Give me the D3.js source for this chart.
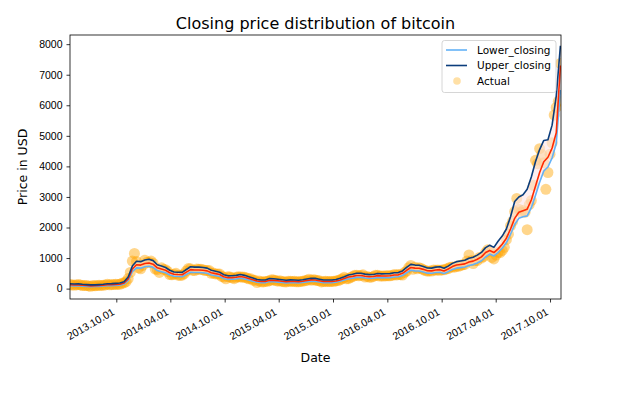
<!DOCTYPE html>
<html>
<head>
<meta charset="utf-8">
<script src="https://cdn.jsdelivr.net/npm/d3@7"></script>
<style>
  body { margin: 0; background: #fff; }
  svg { font-family: "DejaVu Sans", sans-serif; }
</style>
</head>
<body>
<div id="chart"></div>
<script>
// weekly closing prices (USD), first point 2013-04-28
var actualClose = [
  135,115,115,122,133, 122,100,100,103,88, 76,98,91,98, 106,104,114,122,
  146,126,128,134,140, 136,142,172,190, 230,330,530,900, 1150,890,680,650,760,
  // 2014
  930,860,860,900, 830,640,620,530, 680,630,620,560,460, 450,470,500,440,
  430,440,490,580, 660,650,600,590,640, 630,630,620,590, 590,590,500,510,480,
  480,475,400,380, 320,390,380,355, 325,370,390,380,380, 370,350,320,320,
  // 2015
  275,270,200,250, 225,220,235,240, 260,290,285,265,245, 260,235,225,220,
  240,240,235,240,225, 225,235,245,255, 270,310,275,290, 280,265,255,220,230,
  240,230,230,235, 240,250,265,290, 325,370,320,325,360, 395,435,440,420,
  // 2016
  430,450,380,400,375, 375,400,440,435, 410,415,410,420, 420,420,430,460,
  445,460,455,445,530, 575,685,760,630, 700,650,680,660,620, 590,570,580,575,
  610,605,610,600, 610,615,640,655,700, 710,700,730,730, 765,780,790,900,
  // 2017
  1100,910,820,920,920, 1020,1000,1050,1180, 1270,1230,1020,970,
  1100,1190,1180,1250,1350, 1600,1780,2050,2200, 2520,2950,2600,2500,
  2560,2500,1930,2750,2880, 3380,4200,4090,4580, 4390,4120,3250,3800,
  4400,4770,5680,5930,6130, 7370
];

// model output every 14 days, first point 2013-04-28
var meanClose = [
  125,118,120,108,100,90,92,100,110,125,128,135,145,185,320,640,780,770,820,840,
  800,680,640,600,520,470,460,455,540,620,610,610,600,580,520,490,460,390,355,360,
  370,395,370,330,290,250,235,235,275,270,255,240,228,238,236,228,242,265,285,280,
  258,232,232,236,250,285,330,380,400,430,430,405,390,395,425,412,415,420,445,450,
  500,600,690,670,665,630,585,580,610,620,575,640,720,770,790,810,870,900,960,1040,
  1180,1250,1180,1300,1450,1650,1950,2300,2500,2550,2600,2900,3350,3800,4150,4300,4600,5100,7300
];
var upperClose = [
  160,152,154,141,132,121,123,132,143,160,163,171,182,227,378,737,894,882,938,961,
  916,782,737,692,602,546,535,530,625,714,703,703,692,670,602,569,535,457,418,423,
  434,462,434,390,345,300,283,283,328,322,306,289,275,287,284,275,291,317,339,334,
  309,280,280,284,300,339,390,446,468,502,502,474,457,462,496,481,485,490,518,524,
  580,692,793,770,765,726,675,670,703,714,664,737,826,882,905,927,994,1028,1095,1185,
  1342,1420,1350,1550,1720,1950,2350,2850,3000,3070,3250,3650,4150,4550,4850,4870,5350,6300,7950
];
var lowerClose = [
  96,90,92,81,74,65,67,74,83,96,99,105,114,150,270,555,679,670,715,733,
  697,590,555,519,448,403,394,390,466,537,528,528,519,501,448,421,394,332,301,305,
  314,337,314,279,243,208,194,194,230,225,212,199,188,197,195,188,200,221,239,234,
  215,191,191,195,208,239,279,323,341,368,368,345,332,337,363,352,354,359,381,386,
  430,519,599,581,577,546,506,501,528,537,497,555,626,670,688,706,759,786,839,911,
  1035,1130,1070,1180,1320,1500,1780,2100,2300,2350,2380,2650,3050,3480,3850,3980,4280,4750,6500
];

var xTickLabels = ["2013.10.01","2014.04.01","2014.10.01","2015.04.01","2015.10.01",
                   "2016.04.01","2016.10.01","2017.04.01","2017.10.01"];
var yTicks = [0,1000,2000,3000,4000,5000,6000,7000,8000];

var startDate = new Date(2013, 3, 28);
var endDate = new Date(2017, 10, 7);
var parseTick = d3.timeParse("%Y.%m.%d");

var actual = actualClose.map(function(v, i) {
    return { date: d3.timeDay.offset(startDate, 7 * i), value: v };
});
var band = meanClose.map(function(v, i) {
    return { date: d3.timeDay.offset(startDate, 14 * i), mean: v, upper: upperClose[i], lower: lowerClose[i] };
});

var width = 630, height = 395;
var margin = { top: 35, right: 69, bottom: 96, left: 70 };

var svg = d3.select("#chart").append("svg")
    .attr("width", width)
    .attr("height", height);

var x = d3.scaleTime()
    .domain([startDate, endDate])
    .range([margin.left, width - margin.right]);

var y = d3.scaleLinear()
    .domain([-340, 8300])
    .range([height - margin.bottom, margin.top]);

svg.append("clipPath").attr("id", "plot-clip")
    .append("rect")
    .attr("x", margin.left).attr("y", margin.top)
    .attr("width", width - margin.left - margin.right)
    .attr("height", height - margin.top - margin.bottom);

var plot = svg.append("g").attr("clip-path", "url(#plot-clip)");

// actual closing prices
plot.selectAll(".actual")
    .data(actual)
    .enter().append("circle")
    .attr("class", "actual")
    .attr("cx", function(d) { return x(d.date); })
    .attr("cy", function(d) { return y(d.value); })
    .attr("r", 5.5)
    .style("fill", "#ffa500")
    .style("opacity", 0.45);

// band between lower and upper
plot.append("path")
    .datum(band)
    .attr("d", d3.area()
        .x(function(d) { return x(d.date); })
        .y0(function(d) { return y(d.lower); })
        .y1(function(d) { return y(d.upper); }))
    .style("fill", "#fbe4e8")
    .style("opacity", 0.6);

function drawLine(key, color) {
    plot.append("path")
        .datum(band)
        .attr("d", d3.line()
            .x(function(d) { return x(d.date); })
            .y(function(d) { return y(d[key]); }))
        .style("fill", "none")
        .style("stroke", color)
        .style("stroke-width", 1.6)
        .style("stroke-linejoin", "round");
}
drawLine("lower", "#63b1f7");
drawLine("mean", "#ff2a00");
drawLine("upper", "#0b3d7c");

// axes
var xAxis = svg.append("g")
    .attr("transform", "translate(0," + (height - margin.bottom) + ")")
    .call(d3.axisBottom(x)
        .tickValues(xTickLabels.map(parseTick))
        .tickFormat(d3.timeFormat("%Y.%m.%d"))
        .tickSize(3.5)
        .tickPadding(3));
xAxis.select(".domain").remove();
xAxis.selectAll("line").style("stroke", "#000").style("stroke-width", 0.8);
xAxis.selectAll("text")
    .style("font-size", "10.5px")
    .style("fill", "#000")
    .attr("text-anchor", "end")
    .attr("dy", null)
    .attr("y", null)
    .attr("transform", "translate(-1.5,15) rotate(-30)");

var yAxis = svg.append("g")
    .attr("transform", "translate(" + margin.left + ",0)")
    .call(d3.axisLeft(y).tickValues(yTicks).tickFormat(d3.format("d")).tickSize(3.5).tickPadding(4));
yAxis.select(".domain").remove();
yAxis.selectAll("line").style("stroke", "#000").style("stroke-width", 0.8);
yAxis.selectAll("text").style("font-size", "10.5px").style("fill", "#000");

svg.append("rect")
    .attr("x", margin.left).attr("y", margin.top)
    .attr("width", width - margin.left - margin.right)
    .attr("height", height - margin.top - margin.bottom)
    .style("fill", "none")
    .style("stroke", "#000")
    .style("stroke-width", 0.8);

// titles
svg.append("text")
    .attr("x", (margin.left + width - margin.right) / 2)
    .attr("y", 29)
    .attr("text-anchor", "middle")
    .style("font-size", "16px")
    .text("Closing price distribution of bitcoin");

svg.append("text")
    .attr("x", (margin.left + width - margin.right) / 2)
    .attr("y", 362)
    .attr("text-anchor", "middle")
    .style("font-size", "12.5px")
    .text("Date");

svg.append("text")
    .attr("transform", "translate(27," + ((margin.top + height - margin.bottom) / 2) + ") rotate(-90)")
    .attr("text-anchor", "middle")
    .style("font-size", "12.5px")
    .text("Price in USD");

// legend
var legend = svg.append("g").attr("transform", "translate(442,40.5)");
legend.append("rect")
    .attr("width", 114).attr("height", 52)
    .attr("rx", 2.5)
    .style("fill", "#fff").style("fill-opacity", 0.8)
    .style("stroke", "#cccccc").style("stroke-width", 0.8);

var legendItems = [
    { label: "Lower_closing", color: "#63b1f7", type: "line" },
    { label: "Upper_closing", color: "#0b3d7c", type: "line" },
    { label: "Actual", color: "#ffa500", type: "dot" }
];
legendItems.forEach(function(item, i) {
    var cy = 9.5 + i * 15.5;
    if (item.type === "line") {
        legend.append("line")
            .attr("x1", 4).attr("x2", 25)
            .attr("y1", cy).attr("y2", cy)
            .style("stroke", item.color).style("stroke-width", 1.6);
    } else {
        legend.append("circle")
            .attr("cx", 15).attr("cy", cy).attr("r", 3.8)
            .style("fill", item.color).style("opacity", 0.35);
    }
    legend.append("text")
        .attr("x", 35).attr("y", cy)
        .attr("dy", "0.35em")
        .style("font-size", "10.5px")
        .text(item.label);
});
</script>
</body>
</html>
